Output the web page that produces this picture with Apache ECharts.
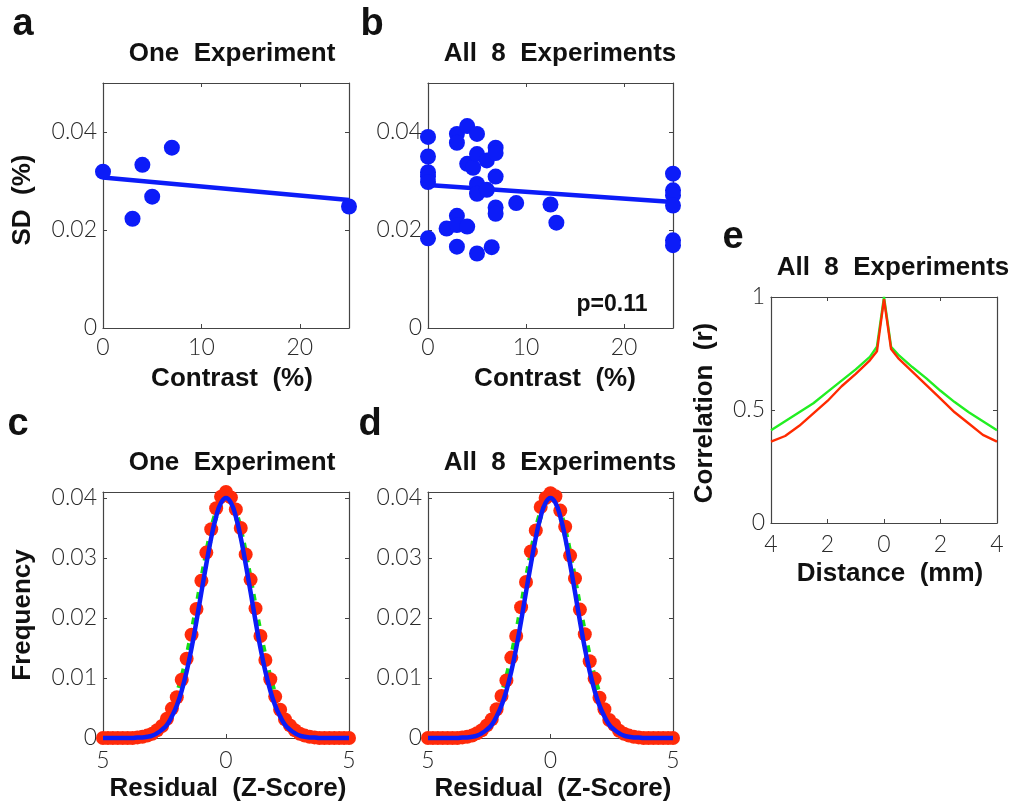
<!DOCTYPE html>
<html><head><meta charset="utf-8">
<script src="https://cdn.jsdelivr.net/npm/echarts@6/dist/echarts.min.js"></script>
<style>html,body{margin:0;padding:0;background:#fff}#c{width:1018px;height:805px}</style>
</head><body><div id="c"></div>
<script>
// ---------- data ----------
// panel a
const contrastA = [0, 3, 4, 5, 7, 25];
const sdA = [0.0319, 0.0223, 0.0333, 0.0268, 0.0368, 0.0248];
const fitContrast = [0, 25];
const fitA = [0.0307, 0.0261];
// panel b
const contrastB = [0,0,0,0,0,0, 1.9, 2.95,2.95,2.95,2.95,2.95, 4,4,4, 4.6, 5,5,5,5,5, 6,6, 6.5, 6.9,6.9,6.9,6.9,6.9, 9, 12.5, 13.1, 25,25,25,25,25,25];
const sdB = [0.0390,0.0350,0.0318,0.0309,0.0298,0.0183, 0.0203, 0.0396,0.0378,0.0229,0.0210,0.0166, 0.0412,0.0335,0.0207, 0.0327, 0.0396,0.0355,0.0294,0.0274,0.0152, 0.0342,0.0282, 0.0165, 0.0368,0.0357,0.0309,0.0246,0.0233, 0.0255, 0.0252, 0.0215, 0.0315,0.0281,0.0271,0.0250,0.0179,0.0169];
const fitB = [0.0292, 0.0257];
const pLabel = 'p=0.11';
// panels c, d
const zScore = [-5,-4.8,-4.6,-4.4,-4.2,-4,-3.8,-3.6,-3.4,-3.2,-3,-2.8,-2.6,-2.4,-2.2,-2,-1.8,-1.6,-1.4,-1.2,-1,-0.8,-0.6,-0.4,-0.2,0,0.2,0.4,0.6,0.8,1,1.2,1.4,1.6,1.8,2,2.2,2.4,2.6,2.8,3,3.2,3.4,3.6,3.8,4,4.2,4.4,4.6,4.8,5];
const redC = [0,0,0,0,0,0,0,0.0001,0.0002,0.0004,0.0007,0.0013,0.0020,0.0032,0.0049,0.0068,0.0097,0.0132,0.0172,0.0215,0.0262,0.0309,0.0348,0.0383,0.0402,0.0410,0.0401,0.0381,0.0350,0.0306,0.0264,0.0216,0.0170,0.0130,0.0098,0.0069,0.0047,0.0031,0.0021,0.0013,0.0007,0.0004,0.0002,0.0001,0,0,0,0,0,0,0];
const greenC = [0,0,0,0,0,0,0,0.0001,0.0003,0.0005,0.0008,0.0013,0.0021,0.0032,0.0048,0.0070,0.0097,0.0131,0.0170,0.0213,0.0258,0.0302,0.0342,0.0373,0.0393,0.0400,0.0393,0.0373,0.0342,0.0302,0.0258,0.0213,0.0170,0.0131,0.0097,0.0070,0.0048,0.0032,0.0021,0.0013,0.0008,0.0005,0.0003,0.0001,0,0,0,0,0,0,0];
const blueC = [0,0,0,0,0,0,0,0.0001,0.0001,0.0002,0.0004,0.0008,0.0014,0.0022,0.0036,0.0054,0.0079,0.0111,0.0150,0.0195,0.0243,0.0290,0.0334,0.0369,0.0392,0.0400,0.0392,0.0369,0.0334,0.0290,0.0243,0.0195,0.0150,0.0111,0.0079,0.0054,0.0036,0.0022,0.0014,0.0008,0.0004,0.0002,0.0001,0.0001,0,0,0,0,0,0,0];
const redD = [0,0,0,0,0,0,0,0.0001,0.0002,0.0004,0.0008,0.0013,0.0021,0.0031,0.0048,0.0070,0.0096,0.0134,0.0170,0.0218,0.0260,0.0311,0.0346,0.0385,0.0400,0.0408,0.0403,0.0379,0.0352,0.0304,0.0266,0.0214,0.0173,0.0128,0.0099,0.0067,0.0048,0.0030,0.0022,0.0012,0.0007,0.0004,0.0002,0.0001,0,0,0,0,0,0,0];
const greenD = [0,0,0,0,0,0,0,0.0001,0.0003,0.0005,0.0008,0.0013,0.0021,0.0032,0.0048,0.0070,0.0097,0.0131,0.0170,0.0213,0.0258,0.0302,0.0342,0.0373,0.0393,0.0400,0.0393,0.0373,0.0342,0.0302,0.0258,0.0213,0.0170,0.0131,0.0097,0.0070,0.0048,0.0032,0.0021,0.0013,0.0008,0.0005,0.0003,0.0001,0,0,0,0,0,0,0];
const blueD = [0,0,0,0,0,0,0,0.0001,0.0001,0.0002,0.0004,0.0008,0.0014,0.0022,0.0036,0.0054,0.0079,0.0111,0.0150,0.0195,0.0243,0.0290,0.0334,0.0369,0.0392,0.0400,0.0392,0.0369,0.0334,0.0290,0.0243,0.0195,0.0150,0.0111,0.0079,0.0054,0.0036,0.0022,0.0014,0.0008,0.0004,0.0002,0.0001,0.0001,0,0,0,0,0,0,0];
// panel e
const distance = [-4,-3.5,-3,-2.5,-2,-1.5,-1,-0.5,-0.25,0,0.25,0.5,1,1.5,2,2.5,3,3.5,4];
const corrGreen = [0.41,0.45,0.49,0.53,0.58,0.63,0.68,0.735,0.78,1.0,0.78,0.745,0.69,0.64,0.585,0.535,0.49,0.45,0.41];
const corrRed = [0.36,0.385,0.43,0.485,0.54,0.605,0.66,0.72,0.76,0.99,0.77,0.73,0.67,0.61,0.55,0.49,0.44,0.39,0.36];
// text
const panelLetters = ['a','b','c','d','e'];
const titleOne = 'One  Experiment';
const titleAll = 'All  8  Experiments';
const nameSD = 'SD  (%)';
const nameContrast = 'Contrast  (%)';
const nameFreq = 'Frequency';
const nameResid = 'Residual  (Z-Score)';
const nameCorr = 'Correlation  (r)';
const nameDist = 'Distance  (mm)';

// ---------- layout ----------
const BLUE = '#0c1cf8', RED = '#ff2a0a', GREEN = '#14e014';
const grids = [
  {left:103, top:83, width:246, height:245},
  {left:428, top:83, width:245, height:245},
  {left:103, top:492, width:246, height:246},
  {left:428, top:492, width:245, height:246},
  {left:771, top:297, width:226, height:226}
];
const tickFont = {fontFamily:'Lato, "Liberation Sans", sans-serif', fontWeight:300, fontSize:23, color:'#2a2a2a'};
const lineCol = '#444';
const xAxes = [], yAxes = [];
function addAxes(gi, xs, ys) {
  xAxes.push(Object.assign({type:'value', gridIndex:gi, position:'bottom', splitLine:{show:false},
    axisLine:{show:true, onZero:false, lineStyle:{color:lineCol, width:1.2}},
    axisTick:{show:true, inside:true, length:4, lineStyle:{color:lineCol}},
    axisLabel:Object.assign({show:true, margin:xs.margin, showMaxLabel:xs.showMax, showMinLabel:true, formatter:xs.fmt}, tickFont)}, {min:xs.min, max:xs.max, interval:xs.interval}));
  xAxes.push(Object.assign({type:'value', gridIndex:gi, position:'top', splitLine:{show:false},
    axisLine:{show:true, onZero:false, lineStyle:{color:lineCol, width:1.2}},
    axisTick:{show:true, inside:true, length:4, lineStyle:{color:lineCol}},
    axisLabel:{show:false}}, {min:xs.min, max:xs.max, interval:xs.interval}));
  yAxes.push(Object.assign({type:'value', gridIndex:gi, position:'left', splitLine:{show:false},
    axisLine:{show:true, onZero:false, lineStyle:{color:lineCol, width:1.2}},
    axisTick:{show:true, inside:true, length:4, lineStyle:{color:lineCol}},
    axisLabel:Object.assign({show:true, margin:ys.margin, showMaxLabel:ys.showMax, formatter:ys.fmt}, tickFont)}, {min:ys.min, max:ys.max, interval:ys.interval}));
  yAxes.push(Object.assign({type:'value', gridIndex:gi, position:'right', splitLine:{show:false},
    axisLine:{show:true, onZero:false, lineStyle:{color:lineCol, width:1.2}},
    axisTick:{show:true, inside:true, length:4, lineStyle:{color:lineCol}},
    axisLabel:{show:false}}, {min:ys.min, max:ys.max, interval:ys.interval}));
}
const fmtPlain = v => String(v);
const fmtAbs = v => String(Math.abs(v));
const fmt2 = v => v === 0 ? '0' : v.toFixed(2);
const xContrast = {min:0, max:25, interval:10, showMax:false, margin:8, fmt:fmtPlain};
const ySD = {min:0, max:0.05, interval:0.02, showMax:false, margin:6, fmt:fmt2};
const xZ = {min:-5, max:5, interval:5, showMax:true, margin:11, fmt:fmtAbs};
const yFreq = {min:0, max:0.041, interval:0.01, showMax:false, margin:6, fmt:fmt2};
addAxes(0, xContrast, ySD);
addAxes(1, xContrast, ySD);
addAxes(2, xZ, yFreq);
addAxes(3, xZ, yFreq);
addAxes(4, {min:-4, max:4, interval:2, showMax:true, margin:10, fmt:fmtAbs}, {min:0, max:1, interval:0.5, showMax:true, margin:6, fmt:fmtPlain});

const zip = (a, b) => a.map((v, i) => [v, b[i]]);
const series = [];
function ax(gi) { return {xAxisIndex: 2*gi, yAxisIndex: 2*gi}; }
const dotStyle = c => ({color:c, opacity:1});
// a
series.push(Object.assign({type:'line', data:zip(fitContrast, fitA), symbol:'none', lineStyle:{color:BLUE, width:4.5}, z:2}, ax(0)));
series.push(Object.assign({type:'scatter', data:zip(contrastA, sdA), symbolSize:16, itemStyle:dotStyle(BLUE), clip:false, z:3}, ax(0)));
// b
series.push(Object.assign({type:'line', data:zip(fitContrast, fitB), symbol:'none', lineStyle:{color:BLUE, width:4.5}, z:2}, ax(1)));
series.push(Object.assign({type:'scatter', data:zip(contrastB, sdB), symbolSize:16, itemStyle:dotStyle(BLUE), clip:false, z:3}, ax(1)));
// c, d
[[2, redC, greenC, blueC], [3, redD, greenD, blueD]].forEach(([gi, r, g, b]) => {
  series.push(Object.assign({type:'line', data:zip(zScore, g), symbol:'none', smooth:true, clip:false, lineStyle:{color:GREEN, width:6, type:[7,6]}, z:2}, ax(gi)));
  series.push(Object.assign({type:'scatter', data:zip(zScore, r), symbolSize:14, itemStyle:dotStyle(RED), clip:false, z:3}, ax(gi)));
  series.push(Object.assign({type:'line', data:zip(zScore, b), symbol:'none', smooth:true, clip:false, lineStyle:{color:BLUE, width:4.5}, z:4}, ax(gi)));
});
// e
series.push(Object.assign({type:'line', data:zip(distance, corrGreen), symbol:'none', lineStyle:{color:'#22ee22', width:2.4}, z:2}, ax(4)));
series.push(Object.assign({type:'line', data:zip(distance, corrRed), symbol:'none', lineStyle:{color:'#ff2a00', width:2.4}, z:3}, ax(4)));

const BOLD = '"Liberation Sans", Arial, sans-serif';
function txt(x, y, s, size, rot) {
  return {type:'text', x:x, y:y, rotation:rot || 0, z:10,
    style:{text:s, font:'bold ' + size + 'px ' + BOLD, fill:'#111',
      align:'center', verticalAlign:'middle', textAlign:'center', textVerticalAlign:'middle'}};
}
const R = Math.PI / 2;
const graphics = [
  txt(23, 25, panelLetters[0], 38), txt(372, 25, panelLetters[1], 38),
  txt(18, 425, panelLetters[2], 38), txt(370, 425, panelLetters[3], 38),
  txt(733, 238, panelLetters[4], 38),
  txt(232, 54, titleOne, 26), txt(560, 54, titleAll, 26),
  txt(232, 463, titleOne, 26), txt(560, 463, titleAll, 26),
  txt(893, 268, titleAll, 26),
  txt(23, 200, nameSD, 26, R), txt(232, 379, nameContrast, 26), txt(555, 379, nameContrast, 26),
  txt(23, 615, nameFreq, 26, R), txt(228, 789, nameResid, 26), txt(553, 789, nameResid, 26),
  txt(705, 413, nameCorr, 26, R), txt(890, 574, nameDist, 26),
  txt(612, 305, pLabel, 23)
];

const chart = echarts.init(document.getElementById('c'), null, {renderer:'canvas'});
chart.setOption({
  animation:false,
  backgroundColor:'#fff',
  grid: grids,
  xAxis: xAxes,
  yAxis: yAxes,
  series: series,
  graphic: graphics
});
</script></body></html>
